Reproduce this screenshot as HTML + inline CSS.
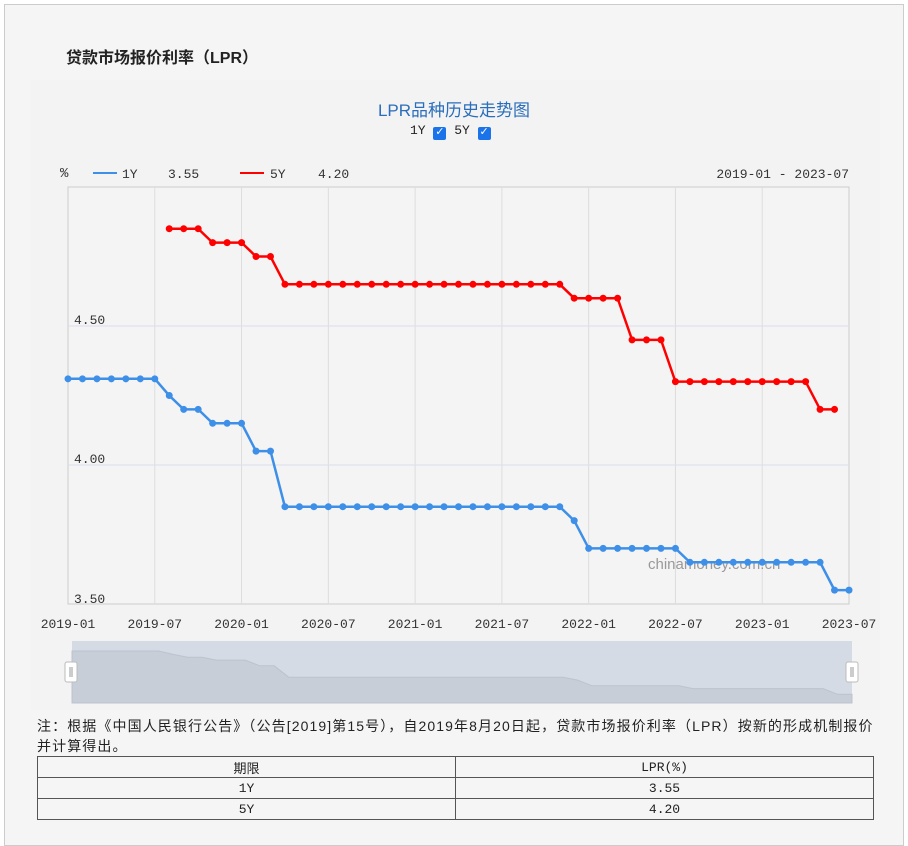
<!DOCTYPE html>
<html><head><meta charset="utf-8"><style>
body{margin:0;width:908px;height:836px;background:#fff;font-family:"Liberation Sans","Noto Sans CJK SC",sans-serif;overflow:hidden}
.outer{position:absolute;left:4px;top:4px;width:898px;height:840px;border:1px solid #ccc;background:#f5f5f5}
.t{position:absolute;white-space:nowrap}
table{position:absolute;left:37px;top:756px;width:837px;border-collapse:collapse;table-layout:fixed;font-family:"Liberation Mono","Noto Sans CJK SC",monospace;font-size:13px;color:#222}
td{border:1px solid #555;text-align:center;height:20px;padding:0}
</style></head><body>
<div class="outer"></div>
<div class="t" style="left:66px;top:44px;font-size:16px;color:#222;font-weight:bold">贷款市场报价利率（LPR）</div>
<div style="position:absolute;left:31px;top:80px;width:849px;height:630px;background:#f3f3f3"></div>
<div class="t" style="left:0;width:908px;text-align:center;top:96px;font-size:17px;color:#2a6ebb">LPR品种历史走势图</div>
<div class="t" style="left:410px;top:123px;font-size:13px;color:#222;font-family:'Liberation Mono',monospace">1Y <span style="display:inline-block;width:13px;height:13px;background:#1a73e8;border-radius:2px;color:#fff;font-size:11px;line-height:13px;text-align:center;vertical-align:-1px">✓</span>&nbsp;5Y <span style="display:inline-block;width:13px;height:13px;background:#1a73e8;border-radius:2px;color:#fff;font-size:11px;line-height:13px;text-align:center;vertical-align:-1px">✓</span></div>
<svg id="s" width="908" height="836" style="position:absolute;left:0;top:0" font-family="Liberation Mono, monospace"></svg>
<div class="t" style="left:37px;top:716px;font-size:14px;color:#222;line-height:20px;letter-spacing:1.1px">注：根据《中国人民银行公告》（公告[2019]第15号），自2019年8月20日起，贷款市场报价利率（LPR）按新的形成机制报价<br>并计算得出。</div>
<table><tr><td>期限</td><td>LPR(%)</td></tr><tr><td>1Y</td><td>3.55</td></tr><tr><td>5Y</td><td>4.20</td></tr></table>
<script>
var s='',X=function(m){return 68+m*(781/54)},Y=function(v){return 465-(v-4)*278};
s+='<rect x="68" y="187" width="781" height="417" fill="#f4f4f4" stroke="#ccc"/>';
for(var i=1;i<9;i++){var x=X(i*6);s+='<line x1="'+x+'" y1="187" x2="'+x+'" y2="604" stroke="#ddd"/>';}
s+='<line x1="68" y1="326" x2="849" y2="326" stroke="#dde"/><line x1="68" y1="465" x2="849" y2="465" stroke="#dde"/>';
s+='<text x="74" y="324" font-size="13" fill="#333">4.50</text><text x="74" y="463" font-size="13" fill="#333">4.00</text><text x="74" y="603" font-size="13" fill="#333">3.50</text>';
var lab=['2019-01','2019-07','2020-01','2020-07','2021-01','2021-07','2022-01','2022-07','2023-01','2023-07'];
for(i=0;i<10;i++)s+='<text x="'+X(i*6)+'" y="628" font-size="13" fill="#333" text-anchor="middle">'+lab[i]+'</text>';
function seq(a){var r=[];a.forEach(function(p){for(var k=0;k<p[1];k++)r.push(p[0]);});return r;}
var y1=seq([[4.31,7],[4.25,1],[4.20,2],[4.15,3],[4.05,2],[3.85,20],[3.80,1],[3.70,7],[3.65,10],[3.55,2]]);
var y5=seq([[4.85,3],[4.80,3],[4.75,2],[4.65,20],[4.60,4],[4.45,3],[4.30,10],[4.20,2]]);
s+='<text x="648" y="569" font-size="15" fill="#999" font-family="Liberation Sans,sans-serif">chinamoney.com.cn</text>';
function draw(d,o,c){var p=d.map(function(v,k){return X(k+o).toFixed(1)+','+Y(v).toFixed(1)}).join(' ');s+='<polyline points="'+p+'" fill="none" stroke="'+c+'" stroke-width="2.5"/>';d.forEach(function(v,k){s+='<circle cx="'+X(k+o)+'" cy="'+Y(v)+'" r="3.5" fill="'+c+'"/>';});}
draw(y1,0,'#3d8fe8');draw(y5,7,'#f00');
s+='<text x="60" y="177" font-size="14" fill="#333">%</text><line x1="93" y1="173" x2="117" y2="173" stroke="#3d8fe8" stroke-width="2"/><text x="122" y="178" font-size="13" fill="#333">1Y</text><text x="168" y="178" font-size="13" fill="#333">3.55</text>';
s+='<line x1="240" y1="173" x2="264" y2="173" stroke="#f00" stroke-width="2"/><text x="270" y="178" font-size="13" fill="#333">5Y</text><text x="318" y="178" font-size="13" fill="#333">4.20</text>';
s+='<text x="849" y="178" font-size="13" fill="#333" text-anchor="end">2019-01 - 2023-07</text>';
s+='<rect x="72" y="641" width="780" height="62" fill="#d5dbe5"/>';
var n=y1.length-1,ap='72,703 ';y1.forEach(function(v,k){ap+=(72+k*780/n).toFixed(1)+','+(651+(4.31-v)*57).toFixed(1)+' ';});ap+='852,703';
s+='<polygon points="'+ap+'" fill="#c8ced8" stroke="#bcc3ce"/>';
s+='<rect x="65" y="662" width="12" height="20" rx="2" fill="#fff" stroke="#bbb"/><rect x="846" y="662" width="12" height="20" rx="2" fill="#fff" stroke="#bbb"/>';
s+='<line x1="70" y1="667" x2="70" y2="677" stroke="#999"/><line x1="72" y1="667" x2="72" y2="677" stroke="#999"/><line x1="851" y1="667" x2="851" y2="677" stroke="#999"/><line x1="853" y1="667" x2="853" y2="677" stroke="#999"/>';
document.getElementById('s').innerHTML=s;
</script>
</body></html>
